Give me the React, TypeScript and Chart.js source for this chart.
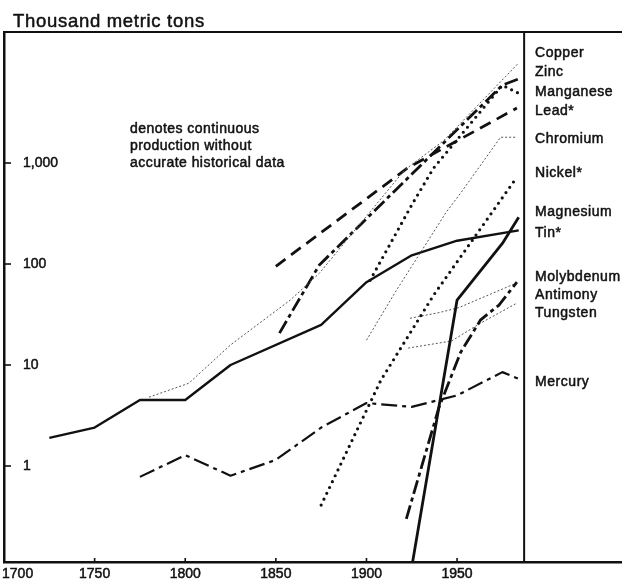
import React, { useEffect, useRef } from 'react';
import { Chart, registerables } from 'chart.js';

Chart.register(...registerables);

// ---------- data (thousand metric tons, log scale) ----------
const X_TICKS = [1700, 1750, 1800, 1850, 1900, 1950];
const Y_TICKS = [1, 10, 100, 1000];
const FRAME_END_YEAR = 1987;

const COPPER_YEARS = [1780, 1802, 1825, 1858, 1874, 1921, 1943, 1984];
const COPPER_VALUES = [4.8, 6.6, 15.8, 44, 81, 850, 1690, 9800];

const ZINC_YEARS = [1852, 1874, 1878, 1975, 1984];
const ZINC_VALUES = [20.7, 98, 115, 5900, 6800];

const MANGANESE_YEARS = [1902, 1925, 1937, 1950, 1975, 1984];
const MANGANESE_VALUES = [69, 385, 890, 1700, 5900, 4900];

const LEAD_YEARS = [1850, 1923, 1983];
const LEAD_VALUES = [95, 900, 3500];

const CHROMIUM_YEARS = [1900, 1916, 1944, 1952, 1974, 1983];
const CHROMIUM_VALUES = [17.6, 53, 326, 505, 1800, 1800];

const NICKEL_YEARS = [1875, 1908, 1937, 1983];
const NICKEL_VALUES = [0.41, 7.1, 49, 725];

const MAGNESIUM_YEARS = [1925, 1950, 1975, 1984];
const MAGNESIUM_VALUES = [0.1, 44, 160, 290];

const TIN_YEARS = [1725, 1750, 1775, 1800, 1825, 1875, 1900, 1925, 1950, 1984];
const TIN_VALUES = [1.9, 2.4, 4.5, 4.5, 10, 25, 66, 122, 170, 215];

const MOLYBDENUM_YEARS = [1922, 1940, 1952, 1963, 1973, 1983];
const MOLYBDENUM_VALUES = [0.3, 3.8, 13.4, 28, 39, 66];

const ANTIMONY_YEARS = [1924, 1940, 1951, 1983];
const ANTIMONY_VALUES = [29, 33, 37, 65];

const TUNGSTEN_YEARS = [1923, 1947, 1963, 1983];
const TUNGSTEN_VALUES = [14.7, 17.3, 26, 41];

const MERCURY_YEARS = [1775, 1800, 1825, 1850, 1875, 1900, 1925, 1950, 1975, 1984];
const MERCURY_VALUES = [0.78, 1.28, 0.8, 1.15, 2.4, 4.2, 3.85, 5, 8.5, 7.3];

const SERIES_NAMES = ['Copper', 'Zinc', 'Manganese', 'Lead*', 'Chromium', 'Nickel*', 'Magnesium', 'Tin*', 'Molybdenum', 'Antimony', 'Tungsten', 'Mercury'];

const TITLE = 'Thousand metric tons';
const NOTE_LINES = ['denotes continuous', 'production without', 'accurate historical data'];

// ---------- helpers ----------
const pts = (xs: number[], ys: number[]) => xs.map((x, i) => ({ x, y: ys[i] }));

const INK = '#111';
const FONT = '"Liberation Sans", Arial, Helvetica, sans-serif';

type Style = { w: number; dash: number[]; cap: CanvasLineCap; color: string };
const THIN: Style = { w: 1, dash: [2, 2], cap: 'butt', color: '#555' };
const DOTS: Style = { w: 3.2, dash: [0, 6.5], cap: 'round', color: INK };
const SOLID: Style = { w: 2.4, dash: [], cap: 'butt', color: INK };
const DASH: Style = { w: 2.8, dash: [12, 7], cap: 'butt', color: INK };
const DASHDOT: Style = { w: 2.8, dash: [14, 4, 4, 4], cap: 'butt', color: INK };
const MERC: Style = { w: 2.2, dash: [16, 5, 4, 5], cap: 'butt', color: INK };

const mk = (label: string, xs: number[], ys: number[], s: Style) => ({
  label,
  data: pts(xs, ys),
  borderColor: s.color,
  backgroundColor: s.color,
  borderWidth: s.w,
  borderDash: s.dash,
  borderCapStyle: s.cap,
  borderJoinStyle: 'round' as CanvasLineJoin,
  pointRadius: 0,
  tension: 0,
  fill: false,
});

export default function App() {
  const ref = useRef<HTMLCanvasElement | null>(null);

  useEffect(() => {
    const canvas = ref.current;
    if (!canvas) return;

    const LABEL_X = 535;
    const LABEL_Y = [53, 72, 92, 111, 139, 173, 212, 233, 277, 295, 313, 382];

    const drawText = (ctx: CanvasRenderingContext2D, t: string, x: number, y: number) => {
      ctx.strokeText(t, x, y);
      ctx.fillText(t, x, y);
    };

    const framePlugin = {
      id: 'frame',
      afterDraw(chart: any) {
        const { ctx, chartArea, scales } = chart;
        const xs = scales.x;
        const ys = scales.y;
        ctx.save();
        ctx.strokeStyle = INK;
        ctx.setLineDash([]);
        // top frame line
        ctx.lineWidth = 2;
        ctx.beginPath();
        ctx.moveTo(chartArea.left - 1, chartArea.top);
        ctx.lineTo(chart.width, chartArea.top);
        ctx.stroke();
        // right frame line
        const rx = xs.getPixelForValue(FRAME_END_YEAR);
        ctx.beginPath();
        ctx.moveTo(rx, chartArea.top);
        ctx.lineTo(rx, chartArea.bottom);
        ctx.stroke();
        // y tick marks (inside)
        ctx.lineWidth = 1.6;
        Y_TICKS.forEach((v) => {
          const y = ys.getPixelForValue(v);
          ctx.beginPath();
          ctx.moveTo(chartArea.left, y);
          ctx.lineTo(chartArea.left + 7, y);
          ctx.stroke();
        });
        // x tick marks
        X_TICKS.forEach((v) => {
          if (v === X_TICKS[0]) return;
          const x = xs.getPixelForValue(v);
          ctx.beginPath();
          ctx.moveTo(x, chartArea.bottom);
          ctx.lineTo(x, chartArea.bottom - 4);
          ctx.stroke();
        });

        ctx.fillStyle = INK;
        ctx.strokeStyle = INK;
        ctx.lineWidth = 0.5;
        ctx.lineJoin = 'round';
        // title
        ctx.font = `18.5px ${FONT}`;
        (ctx as any).letterSpacing = '0.7px';
        ctx.textAlign = 'left';
        ctx.textBaseline = 'alphabetic';
        drawText(ctx, TITLE, 13, 27);
        // note
        ctx.font = `14px ${FONT}`;
        (ctx as any).letterSpacing = '0.45px';
        NOTE_LINES.forEach((t, i) => drawText(ctx, t, 130, 132.5 + i * 17.2));
        // series labels
        (ctx as any).letterSpacing = '0.55px';
        ctx.textBaseline = 'middle';
        SERIES_NAMES.forEach((t, i) => drawText(ctx, t, LABEL_X, LABEL_Y[i]));
        (ctx as any).letterSpacing = '0px';
        ctx.restore();
      },
    };

    const chart = new Chart(canvas, {
      type: 'line',
      data: {
        datasets: [
          mk(SERIES_NAMES[0], COPPER_YEARS, COPPER_VALUES, THIN),
          mk(SERIES_NAMES[1], ZINC_YEARS, ZINC_VALUES, DASHDOT),
          mk(SERIES_NAMES[2], MANGANESE_YEARS, MANGANESE_VALUES, DOTS),
          mk(SERIES_NAMES[3], LEAD_YEARS, LEAD_VALUES, DASH),
          mk(SERIES_NAMES[4], CHROMIUM_YEARS, CHROMIUM_VALUES, THIN),
          mk(SERIES_NAMES[5], NICKEL_YEARS, NICKEL_VALUES, DOTS),
          mk(SERIES_NAMES[6], MAGNESIUM_YEARS, MAGNESIUM_VALUES, { ...SOLID, w: 2.8 }),
          mk(SERIES_NAMES[7], TIN_YEARS, TIN_VALUES, SOLID),
          mk(SERIES_NAMES[8], MOLYBDENUM_YEARS, MOLYBDENUM_VALUES, DASHDOT),
          mk(SERIES_NAMES[9], ANTIMONY_YEARS, ANTIMONY_VALUES, THIN),
          mk(SERIES_NAMES[10], TUNGSTEN_YEARS, TUNGSTEN_VALUES, THIN),
          mk(SERIES_NAMES[11], MERCURY_YEARS, MERCURY_VALUES, MERC),
        ] as any,
      },
      options: {
        responsive: false,
        maintainAspectRatio: false,
        devicePixelRatio: 1,
        animation: false,
        layout: { padding: { left: 4, top: 32, right: 0, bottom: 0 } },
        plugins: {
          legend: { display: false },
          tooltip: { enabled: false },
          title: { display: false },
        },
        scales: {
          x: {
            type: 'linear',
            min: 1700,
            max: 2041,
            grid: { display: false, drawTicks: false },
            border: { display: true, color: INK, width: 2.5 },
            ticks: {
              autoSkip: false,
              maxRotation: 0,
              padding: 4,
              color: INK,
              textStrokeColor: INK,
              textStrokeWidth: 0.5,
              font: { family: FONT, size: 14 },
              callback: (v: any) => (Number(v) === X_TICKS[0] ? '       ' + String(v) : String(v)),
            },
            afterBuildTicks: (s: any) => {
              s.ticks = X_TICKS.map((value) => ({ value }));
            },
            afterFit: (s: any) => {
              s.paddingLeft = 0;
              s.paddingRight = 0;
              s.height = 18;
            },
          },
          y: {
            type: 'logarithmic',
            min: 0.112,
            max: 19830,
            grid: { display: false, drawTicks: false },
            border: { display: true, color: INK, width: 2.5 },
            ticks: {
              mirror: true,
              padding: 19,
              color: INK,
              textStrokeColor: INK,
              textStrokeWidth: 0.5,
              font: { family: FONT, size: 14 },
              callback: (v: any) => Number(v).toLocaleString('en-US'),
            },
            afterBuildTicks: (s: any) => {
              s.ticks = Y_TICKS.map((value) => ({ value }));
            },
            afterFit: (s: any) => {
              s.width = 0;
              s.paddingTop = 0;
              s.paddingBottom = 0;
            },
          },
        },
      } as any,
      plugins: [framePlugin],
    });

    return () => chart.destroy();
  }, []);

  return (
    <div style={{ position: 'absolute', left: 0, top: 0, width: 622, height: 580, background: '#fff' }}>
      <canvas ref={ref} width={622} height={580} style={{ display: 'block' }} />
    </div>
  );
}
